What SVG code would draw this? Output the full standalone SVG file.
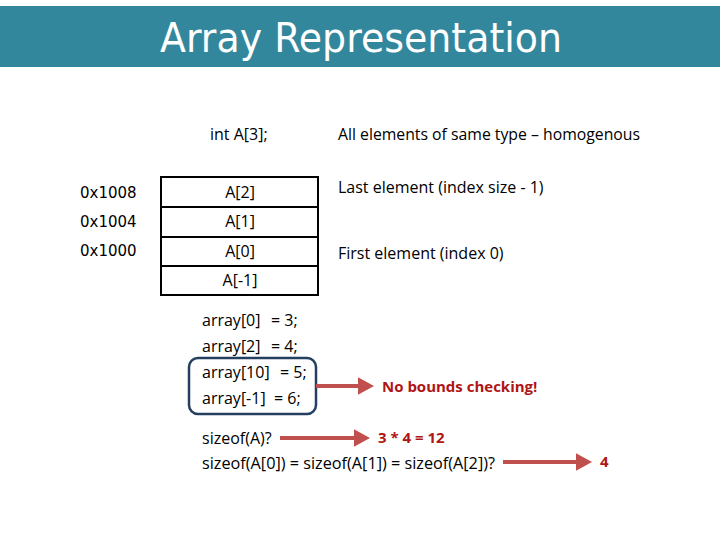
<svg xmlns="http://www.w3.org/2000/svg" width="720" height="540" viewBox="0 0 720 540">
<defs>
<style>
.t{font-family:"Open Sans","Liberation Sans",sans-serif;font-size:16px;fill:#000}
.addr{font-family:"DejaVu Sans",sans-serif;font-size:15px;fill:#000}
.cell{fill:#fff;stroke:#000;stroke-width:2}
.red{font-family:"Open Sans","Liberation Sans",sans-serif;font-size:15px;font-weight:bold;fill:#B01515}
.arr{stroke:#C0504D;stroke-width:4;fill:none;marker-end:url(#ah)}
</style>
<marker id="ah" markerWidth="5" markerHeight="5" refX="1.5" refY="2.5" orient="auto" markerUnits="strokeWidth">
<path d="M0,0.3 L4,2.5 L0,4.7 z" fill="#C0504D"/>
</marker>
</defs>
<rect width="720" height="540" fill="#fff"/>
<g id="header">
<rect x="0" y="6" width="720" height="61" fill="#33879C"/>
<text x="361" y="52" text-anchor="middle" font-family="'DejaVu Sans',sans-serif" font-size="40" fill="#fff" textLength="402" lengthAdjust="spacingAndGlyphs">Array Representation</text>
</g>
<g id="decl">
<text class="t" x="210" y="140">int A[3];</text>
<text class="t" x="338" y="140" textLength="302" lengthAdjust="spacingAndGlyphs">All elements of same type – homogenous</text>
</g>
<g id="array">
<g id="cell2"><rect class="cell" x="161" y="177" width="157" height="30"/><text class="t" x="240" y="198" text-anchor="middle">A[2]</text></g>
<g id="cell1"><rect class="cell" x="161" y="207" width="157" height="30"/><text class="t" x="240" y="227" text-anchor="middle">A[1]</text></g>
<g id="cell0"><rect class="cell" x="161" y="237" width="157" height="29"/><text class="t" x="240" y="257" text-anchor="middle">A[0]</text></g>
<g id="cellm1"><rect class="cell" x="161" y="266" width="157" height="29"/><text class="t" x="240" y="286" text-anchor="middle">A[-1]</text></g>
</g>
<g id="addresses">
<text class="addr" x="80" y="198">0x1008</text>
<text class="addr" x="80" y="227">0x1004</text>
<text class="addr" x="80" y="256">0x1000</text>
</g>
<g id="notes">
<text class="t" x="338" y="193">Last element (index size - 1)</text>
<text class="t" x="338" y="259">First element (index 0)</text>
</g>
<g id="code">
<text class="t" x="202" y="326">array[0]</text><text class="t" x="271" y="326">= 3;</text>
<text class="t" x="202" y="352">array[2]</text><text class="t" x="271" y="352">= 4;</text>
<text class="t" x="202" y="378">array[10]</text><text class="t" x="280" y="378">= 5;</text>
<text class="t" x="202" y="404">array[-1]</text><text class="t" x="274" y="404">= 6;</text>
<rect x="189" y="358" width="127" height="56" rx="9" fill="none" stroke="#243F60" stroke-width="2.5"/>
</g>
<g id="sizeof">
<text class="t" x="202" y="444">sizeof(A)?</text>
<text class="t" x="202" y="469" textLength="293" lengthAdjust="spacingAndGlyphs">sizeof(A[0]) = sizeof(A[1]) = sizeof(A[2])?</text>
</g>
<g id="answers">
<text class="red" x="382" y="392">No bounds checking!</text>
<text class="red" x="378" y="443" font-size="16">3 * 4 = 12</text>
<text class="red" x="600" y="467" font-size="16">4</text>
</g>
<g id="connectors">
<line class="arr" x1="316" y1="386" x2="364" y2="386"/>
<line class="arr" x1="280" y1="438" x2="360" y2="438"/>
<line class="arr" x1="503" y1="462" x2="582" y2="462"/>
</g>
</svg>
